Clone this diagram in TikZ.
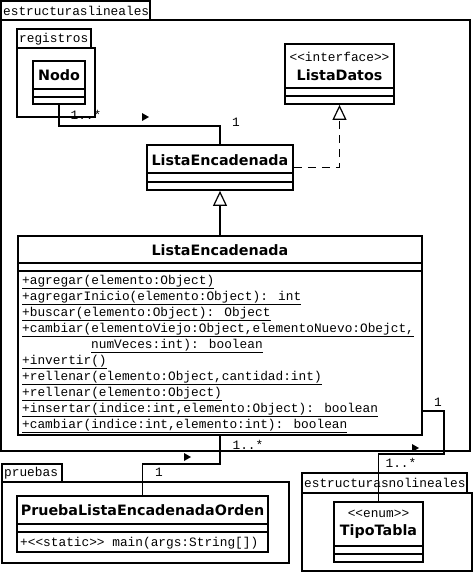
\documentclass[tikz,border=0pt]{standalone}
\usepackage{fontspec}
\setmainfont{DejaVu Sans}
\newfontfamily\namefont{DejaVu Sans}
\newfontfamily\umlmono{Liberation Mono}
\usetikzlibrary{arrows.meta}
\tikzset{
  ln/.style={line width=1.8pt},
  cls/.style={draw, line width=1.8pt, inner sep=0pt, rectangle},
  cname/.style={font=\namefont\bfseries\fontsize{14.3}{16}\selectfont, inner sep=0pt},
  mono/.style={font=\umlmono\fontsize{12.8}{14}\selectfont, inner sep=0pt},
  meth/.style={mono, anchor=base west},
  tablbl/.style={mono, anchor=west},
  navtip/.style={fill=black},
  hollow/.style={-{Triangle[open, length=15pt, width=14pt, line width=1.2pt]}},
}
\newcommand{\ul}[1]{\underline{#1}}
\begin{document}
\begin{tikzpicture}[x=1pt,y=-1pt]
\useasboundingbox (0,0) rectangle (474,574);
\fill[white] (0,0) rectangle (474,574);

% outer package
\draw[ln] (1,20) rectangle (470,451);
\draw[ln] (1,1) rectangle (150,20);
\node[tablbl] (plin) at (3,11) {estructuraslineales};

% registros package
\draw[ln] (17,48) rectangle (95,117);
\draw[ln] (17,29) rectangle (91,48);
\node[tablbl] (preg) at (19,39) {registros};

% pruebas package
\draw[ln] (2,482) rectangle (289,563);
\draw[ln] (2,464) rectangle (62,482);
\node[tablbl] (ppru) at (4,473) {pruebas};

% estructurasnolineales package
\draw[ln] (302,493) rectangle (472,571);
\draw[ln] (302,473) rectangle (467,493);
\node[tablbl] (pnol) at (304,483) {estructurasnolineales};

% Nodo
\node[cls, minimum width=52pt, minimum height=43pt] (nodo) at (59,82.5) {};
\draw[ln] (33,89) -- (85,89);
\draw[ln] (33,97) -- (85,97);
\node[cname] (nodot) at (59,75) {Nodo};

% ListaDatos
\node[cls, minimum width=109pt, minimum height=60pt] (ld) at (339.5,74) {};
\draw[ln] (285,88) -- (394,88);
\draw[ln] (285,96) -- (394,96);
\node[mono] (ldst) at (339.5,57) {<<interface>>};
\node[cname] (ldt) at (339.5,75) {ListaDatos};

% ListaEncadenada (small)
\node[cls, minimum width=146pt, minimum height=45pt] (le) at (220,167.5) {};
\draw[ln] (147,173) -- (293,173);
\draw[ln] (147,182) -- (293,182);
\node[cname] (let) at (220,160) {ListaEncadenada};

% ListaEncadenada (big)
\node[cls, minimum width=404pt, minimum height=199pt] (big) at (220,335.5) {};
\draw[ln] (18,263) -- (422,263);
\draw[ln] (18,271) -- (422,271);
\node[cname] (bigt) at (220,250) {ListaEncadenada};
\node[meth] (m1) at (22,284) {\ul{+agregar(elemento:Object)}};
\node[meth] (m2) at (22,300) {\ul{+agregarInicio(elemento:Object): int}};
\node[meth] (m3) at (22,316) {\ul{+buscar(elemento:Object): Object}};
\node[meth] (m4) at (22,332) {\ul{+cambiar(elementoViejo:Object,elementoNuevo:Obejct,}};
\node[meth] (m5) at (91,348) {\ul{numVeces:int): boolean}};
\node[meth] (m6) at (22,364) {\ul{+invertir()}};
\node[meth] (m7) at (22,380) {\ul{+rellenar(elemento:Object,cantidad:int)}};
\node[meth] (m8) at (22,396) {\ul{+rellenar(elemento:Object)}};
\node[meth] (m9) at (22,412) {\ul{+insertar(indice:int,elemento:Object): boolean}};
\node[meth] (m10) at (22,428) {\ul{+cambiar(indice:int,elemento:int): boolean}};

% PruebaListaEncadenadaOrden
\node[cls, minimum width=251pt, minimum height=56pt] (pr) at (142.5,524) {};
\draw[ln] (17,524) -- (268,524);
\draw[ln] (17,532) -- (268,532);
\node[cname] (prt) at (142.5,510) {PruebaListaEncadenadaOrden};
\node[meth] (prm) at (20,546) {+<<static>> main(args:String[])};

% TipoTabla
\node[cls, minimum width=89pt, minimum height=60pt] (tt) at (378.5,532) {};
\draw[ln] (334,546) -- (423,546);
\draw[ln] (334,554) -- (423,554);
\node[mono] (ttst) at (378.5,514) {<<enum>>};
\node[cname] (ttt) at (378.5,532) {TipoTabla};

% connectors
\draw[ln] (nodo.south) -- ++(0,21) -| (le.north);
\fill[navtip] (142,113) -- (149,117) -- (142,121) -- cycle;
\node[mono] (n1) at (86,115) {1..*};
\node[mono] (n2) at (236,122) {1};

\draw[ln, dash pattern=on 8pt off 6pt, hollow] (le.east) -| (ld.south);
\draw[ln, hollow] (big.north) -- (le.south);

\draw[ln] (big.south) -- ++(0,28) -| (pr.north);
\fill[navtip] (184,453) -- (191,457) -- (184,461) -- cycle;
\node[mono] (p1) at (248,445) {1..*};
\node[mono] (p2) at (159,472) {1};

\draw[ln] (big.south east) ++(0,-25) -- ++(21,0) -- ++(0,43) -| (tt.north);
\fill[navtip] (412,444) -- (419,448) -- (412,452) -- cycle;
\node[mono] (t1) at (438,402) {1};
\node[mono] (t2) at (401,463) {1..*};
\end{tikzpicture}
\end{document}
